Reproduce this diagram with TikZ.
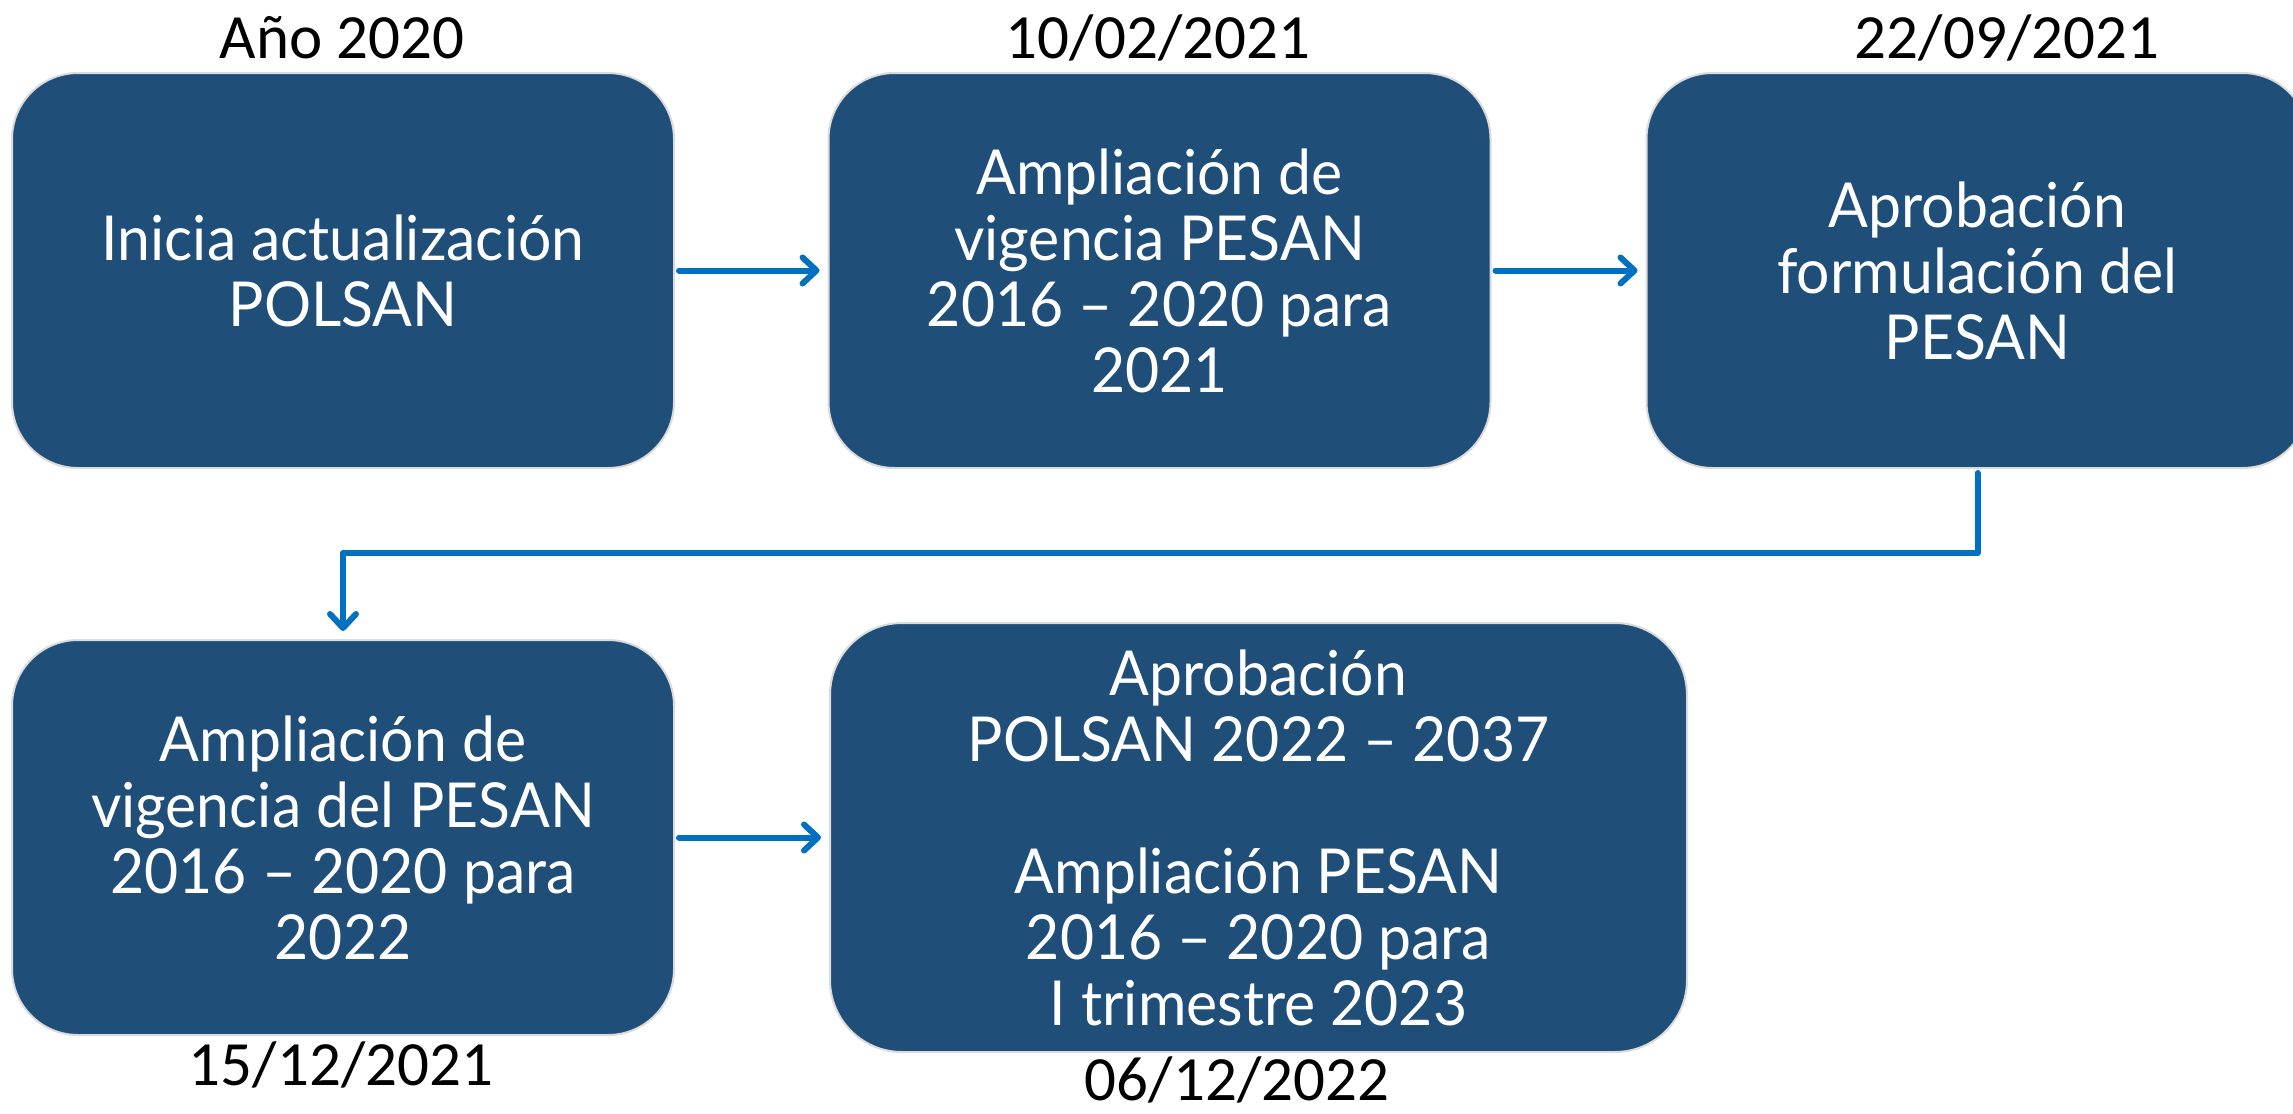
\documentclass[tikz,border=0pt]{standalone}
\usepackage{fontspec}
\setmainfont{Lato}
\newfontfamily\boxfont[FakeStretch=0.95]{Lato}
\newfontfamily\datefont{Carlito}
\usetikzlibrary{arrows.meta}
\definecolor{boxblue}{HTML}{1F4E79}
\definecolor{arrblue}{HTML}{0070C0}
\tikzset{
  stagebox/.style={rectangle, rounded corners=33pt, fill=boxblue, draw=black!14, line width=1pt,
    minimum width=331pt, minimum height=197.5pt, text=white, align=center, inner sep=0pt,
    font=\boxfont\fontsize{31}{33}\selectfont},
  datelabel/.style={anchor=base, font=\datefont\fontsize{31.5}{34}\selectfont, text=black, inner sep=0pt},
  flow/.style={draw=arrblue, line width=3pt, line cap=round, line join=round,
    -{Straight Barb[length=7pt,width=13pt,line cap=round,line join=round]}}
}
\begin{document}
\begin{tikzpicture}[x=0.5pt,y=-0.5pt]
\useasboundingbox (0,0) rectangle (2293,1114);
\node[stagebox] (b1) at (343,270.5) {Inicia actualización\\POLSAN};
\node[stagebox] (b2) at (1159.5,270.5) {Ampliación de\\vigencia PESAN\\2016 – 2020 para\\2021};
\node[stagebox] (b3) at (1977.5,270.5) {Aprobación\\formulación del\\PESAN};
\node[stagebox] (b4) at (343,837.5) {Ampliación de\\vigencia del PESAN\\2016 – 2020 para\\2022};
\node[stagebox, rounded corners=36pt, minimum width=428.5pt, minimum height=214.5pt] (b5) at (1258.5,837.5)
  {Aprobación\\POLSAN 2022 – 2037\\[33pt]Ampliación PESAN\\2016 – 2020 para\\I trimestre 2023};
\node[datelabel] (d1) at (342,58) {Año 2020};
\node[datelabel] (d2) at (1158,58) {10/02/2021};
\node[datelabel] (d3) at (2007,58) {22/09/2021};
\node[datelabel] (d4) at (341,1085) {15/12/2021};
\node[datelabel] (d5) at (1237,1100) {06/12/2022};
\coordinate (turn) at (0,553);
\draw[flow, shorten <=2pt, shorten >=4pt] (b1) -- (b2);
\draw[flow, shorten <=2pt, shorten >=4pt] (b2) -- (b3);
\draw[flow, shorten <=2pt, shorten >=4pt] (b4) -- (b5);
\draw[flow, shorten <=2pt, shorten >=4pt] (b3.south) -- (b3.south |- turn) -- (b4.north |- turn) -- (b4.north);
\end{tikzpicture}
\end{document}
